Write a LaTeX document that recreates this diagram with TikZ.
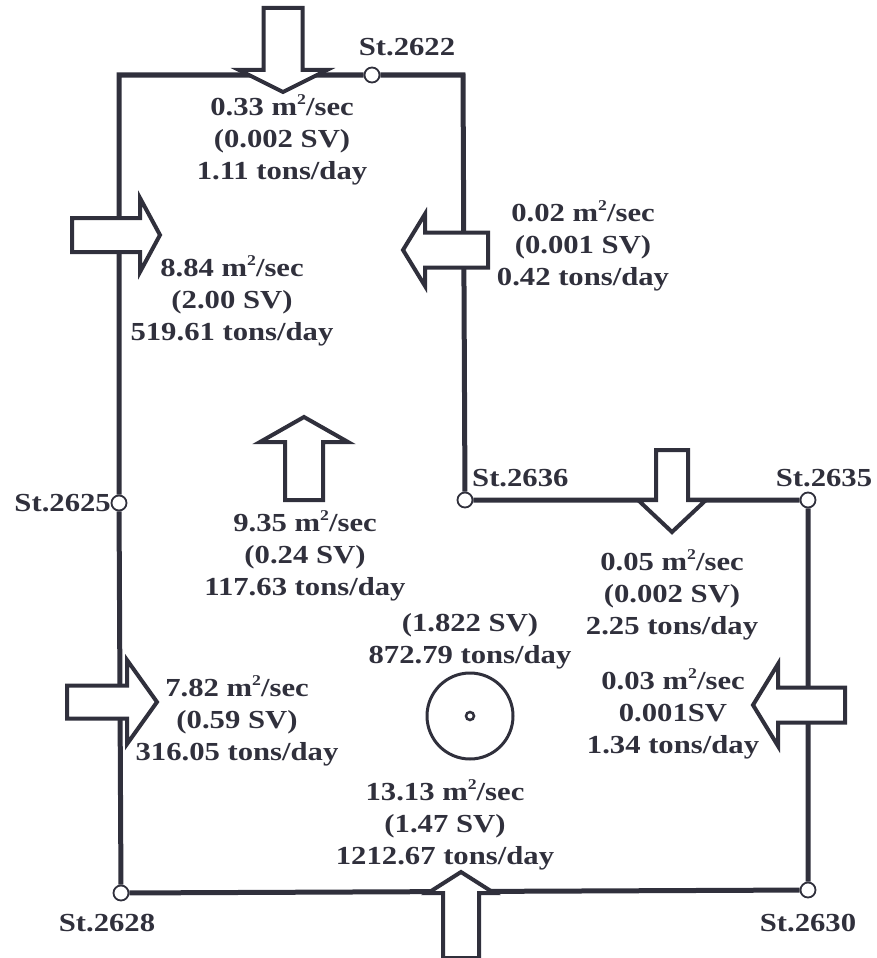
\documentclass[tikz,border=0pt]{standalone}
\usepackage{fontspec}
\setmainfont{Liberation Serif}[FakeStretch=1.18]
\definecolor{ink}{RGB}{48,48,60}
\newcommand{\sqm}{m\raisebox{0.42em}{\fontsize{15}{15}\selectfont 2}}
\tikzset{
  wall/.style={line width=5pt, draw=ink},
  station/.style={circle, draw=ink, line width=1.8pt, fill=white, inner sep=0pt, minimum size=15pt},
  flowarrow/.style={draw=ink, fill=white, line width=4pt, line join=miter},
  flux/.style={align=center, font=\bfseries\fontsize{26}{32}\selectfont, text=ink, inner sep=0pt},
  stname/.style={font=\bfseries\fontsize{26}{30}\selectfont, text=ink, inner sep=0pt}
}
\begin{document}
\begin{tikzpicture}[x=1pt, y=-1pt]
\useasboundingbox (0,0) rectangle (877,958);

% Corners and stations
\coordinate (c-tl) at (119,75);
\coordinate (c-tr) at (463,75);
\node[station] (s2622) at (372,75) {};
\node[station] (s2625) at (119,503) {};
\node[station] (s2636) at (465,500) {};
\node[station] (s2635) at (808,500) {};
\node[station] (s2630) at (808,890) {};
\node[station] (s2628) at (121,893) {};

% Section outline
\draw[wall] (s2622) -- (c-tr) -- (s2636) -- (s2635) -- (s2630) -- (s2628)
  -- (s2625) -- (c-tl) -- (s2622);

% Station names
\node[stname] (l2622) at (407,47) {St.2622};
\node[stname, anchor=east] (l2625) at (111,503) {St.2625};
\node[stname, anchor=west] (l2636) at (472,478) {St.2636};
\node[stname] (l2635) at (824,478) {St.2635};
\node[stname] (l2628) at (107,923) {St.2628};
\node[stname] (l2630) at (808,923) {St.2630};

% Flow arrows (tip x/tip y/angle/length/head length/head half width/shaft half width)
\foreach \tx/\ty/\ang/\len/\hl/\hw/\sw in {
  283/92/-90/84/22/44/19.5,
  160/235/0/88/20/37/17,
  403/250/180/85/22/36/17.5,
  304/417/90/83/25/44/19,
  672/532/-90/82/32/34/16,
  753/705/180/92/25/41/17.5,
  157/702/0/90/30/42/16.5,
  461/872/90/86/21/33/18
} {
  \draw[flowarrow, shift={(\tx,\ty)}, rotate=\ang]
    (0,0) -- (-\hl,\hw) -- (-\hl,\sw) -- (-\len,\sw) -- (-\len,-\sw)
    -- (-\hl,-\sw) -- (-\hl,-\hw) -- cycle;
}

% Eddy in the middle
\node[circle, draw=ink, line width=3pt, minimum size=86pt] (eddy) at (470,716) {};
\node[circle, draw=ink, line width=2.5pt, minimum size=8pt, inner sep=0pt] (eddyc) at (eddy.center) {};

% Transport values
\node[flux] (f1) at (282,140) {0.33 \sqm/sec\\(0.002 SV)\\1.11 tons/day};
\node[flux] (f2) at (232,301) {8.84 \sqm/sec\\(2.00 SV)\\519.61 tons/day};
\node[flux] (f3) at (583,246) {0.02 \sqm/sec\\(0.001 SV)\\0.42 tons/day};
\node[flux] (f4) at (305,556) {9.35 \sqm/sec\\(0.24 SV)\\117.63 tons/day};
\node[flux] (f5) at (672,595) {0.05 \sqm/sec\\(0.002 SV)\\2.25 tons/day};
\node[flux] (f6) at (470,641) {(1.822 SV)\\872.79 tons/day};
\node[flux] (f7) at (673,714) {0.03 \sqm/sec\\0.001SV\\1.34 tons/day};
\node[flux] (f8) at (237,721) {7.82 \sqm/sec\\(0.59 SV)\\316.05 tons/day};
\node[flux] (f9) at (445,825) {13.13 \sqm/sec\\(1.47 SV)\\1212.67 tons/day};
\end{tikzpicture}
\end{document}
